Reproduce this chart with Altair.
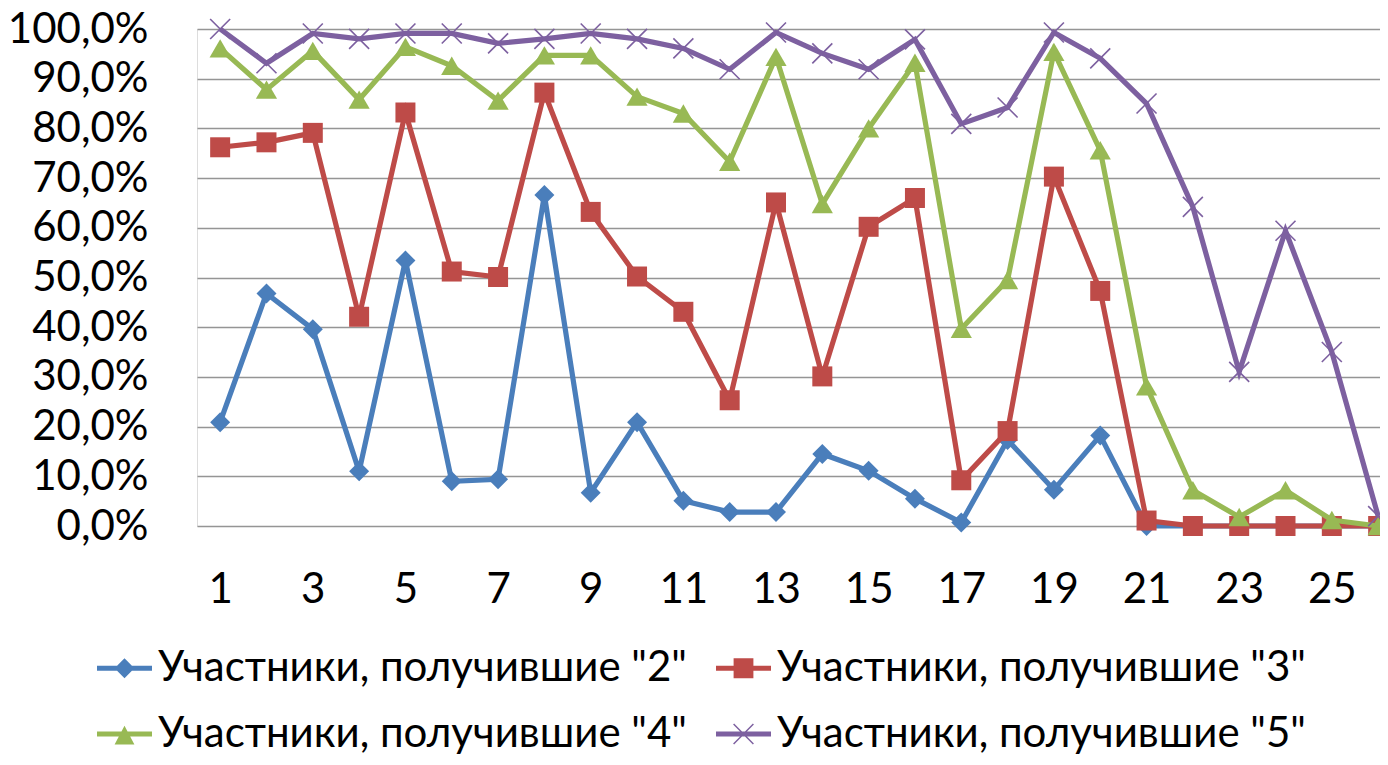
import altair as alt
import pandas as pd

# ---- data (percent) ----
tasks = list(range(1, 27))
names = ['Участники, получившие "2"', 'Участники, получившие "3"',
         'Участники, получившие "4"', 'Участники, получившие "5"']
s2 = [20.9, 46.8, 39.6, 11.0, 53.4, 9.0, 9.4, 66.6, 6.7, 20.9, 5.1, 2.8, 2.8,
      14.5, 11.1, 5.5, 0.7, 17.3, 7.3, 18.2, 0.0, 0.0, 0.0, 0.0, 0.0, 0.0]
s3 = [76.2, 77.2, 79.1, 42.1, 83.2, 51.2, 50.1, 87.2, 63.2, 50.2, 43.1, 25.3, 65.1,
      30.1, 60.2, 66.0, 9.2, 19.1, 70.3, 47.3, 1.1, 0.0, 0.0, 0.0, 0.0, 0.0]
s4 = [96.1, 87.8, 95.6, 85.8, 96.4, 92.6, 85.6, 94.7, 94.7, 86.4, 83.0, 73.3, 94.4,
      64.8, 80.0, 93.2, 39.7, 49.5, 95.4, 75.6, 28.1, 7.2, 1.8, 7.2, 1.2, 0.0]
s5 = [100.0, 93.1, 99.1, 98.0, 99.1, 99.1, 97.1, 98.0, 99.1, 98.0, 96.1, 91.9, 99.3,
      95.1, 91.9, 97.9, 80.9, 84.2, 99.3, 94.1, 85.0, 64.2, 31.0, 59.4, 35.0, 2.0]
colors = ["#4A7EBB", "#BE4B48", "#98B954", "#7D60A0"]
y_ticks = [i / 10 for i in range(11)]
x_ticks = list(range(1, 26, 2))

rows = []
for name, vals in zip(names, [s2, s3, s4, s5]):
    for t, v in zip(tasks, vals):
        rows.append({"task": t, "value": v / 100.0, "series": name})
df = pd.DataFrame(rows)

FONT = "Lato"

x_enc = alt.X("task:Q", scale=alt.Scale(domain=[0.5, 26.04], nice=False, zero=False),
              axis=alt.Axis(values=x_ticks, format="d", title=None, grid=False,
                            ticks=False, domain=False, labelPadding=43,
                            labelFontSize=42, labelFont=FONT, labelColor="black"))
y_enc = alt.Y("value:Q", scale=alt.Scale(domain=[0, 1], nice=False),
              axis=alt.Axis(values=y_ticks, title=None, grid=True, gridColor="#959595",
                            gridWidth=1.3, ticks=False, domain=False, labelPadding=49,
                            labelExpr="replace(format(datum.value, '.1%'), '.', ',')",
                            labelFontSize=42, labelFont=FONT, labelColor="black",
                            minExtent=189, maxExtent=189))

base = alt.Chart(df)

xpath = "M-1,-1L1,1M-1,1L1,-1"
point_shapes = ["diamond", "square", "triangle-up", xpath]
point_sizes = [400, 400, 450, 400]

layers = []
for i, name in enumerate(names):
    sub = base.transform_filter(alt.datum.series == name)
    layers.append(sub.mark_line(color=colors[i], strokeWidth=5.2).encode(x=x_enc, y=y_enc))
    if i < 3:
        layers.append(sub.mark_point(shape=point_shapes[i], filled=True, opacity=1,
                                     color=colors[i], size=point_sizes[i])
                      .encode(x=x_enc, y=y_enc))
    else:
        layers.append(sub.mark_point(shape=xpath, filled=False, opacity=1,
                                     color=colors[i], size=point_sizes[i], strokeWidth=1.6)
                      .encode(x=x_enc, y=y_enc))

# legend symbols: line + marker
line_p = "M-1,-0.09H1V0.09H-1Z"
leg_shapes = [
    line_p + "M0,-0.36L0.36,0L0,0.36L-0.36,0Z",
    line_p + "M-0.36,-0.36H0.36V0.36H-0.36Z",
    line_p + "M0,-0.3L0.36,0.38L-0.36,0.38Z",
    line_p + "M-0.341,-0.379L0.379,0.341L0.341,0.379L-0.379,-0.341Z"
             "M-0.379,0.341L0.341,-0.379L0.379,-0.341L-0.341,0.379Z",
]
legend = alt.Legend(title=None, orient="none", legendX=-100, legendY=611.5, columns=2,
                    direction="horizontal",
                    columnPadding=29, rowPadding=17, labelOffset=6, labelFontSize=42,
                    labelFont=FONT, labelColor="black", labelLimit=1000, symbolSize=3025,
                    symbolOpacity=1, symbolStrokeWidth=0, padding=0)
leg_layer = base.mark_point(filled=True, opacity=0, size=3025).encode(
    x=x_enc, y=y_enc,
    color=alt.Color("series:N", scale=alt.Scale(domain=names, range=colors), legend=legend),
    shape=alt.Shape("series:N", scale=alt.Scale(domain=names, range=leg_shapes), legend=legend),
)
layers.append(leg_layer)

chart = alt.layer(*layers).properties(
    width=1183, height=497,
    autosize=alt.AutoSizeParams(type="none"),
    padding={"left": 189, "top": 21, "right": 0, "bottom": 230},
).configure_view(stroke=None).configure(background="white")

chart.save("out.html", embed_options={"renderer": "svg", "actions": False})
